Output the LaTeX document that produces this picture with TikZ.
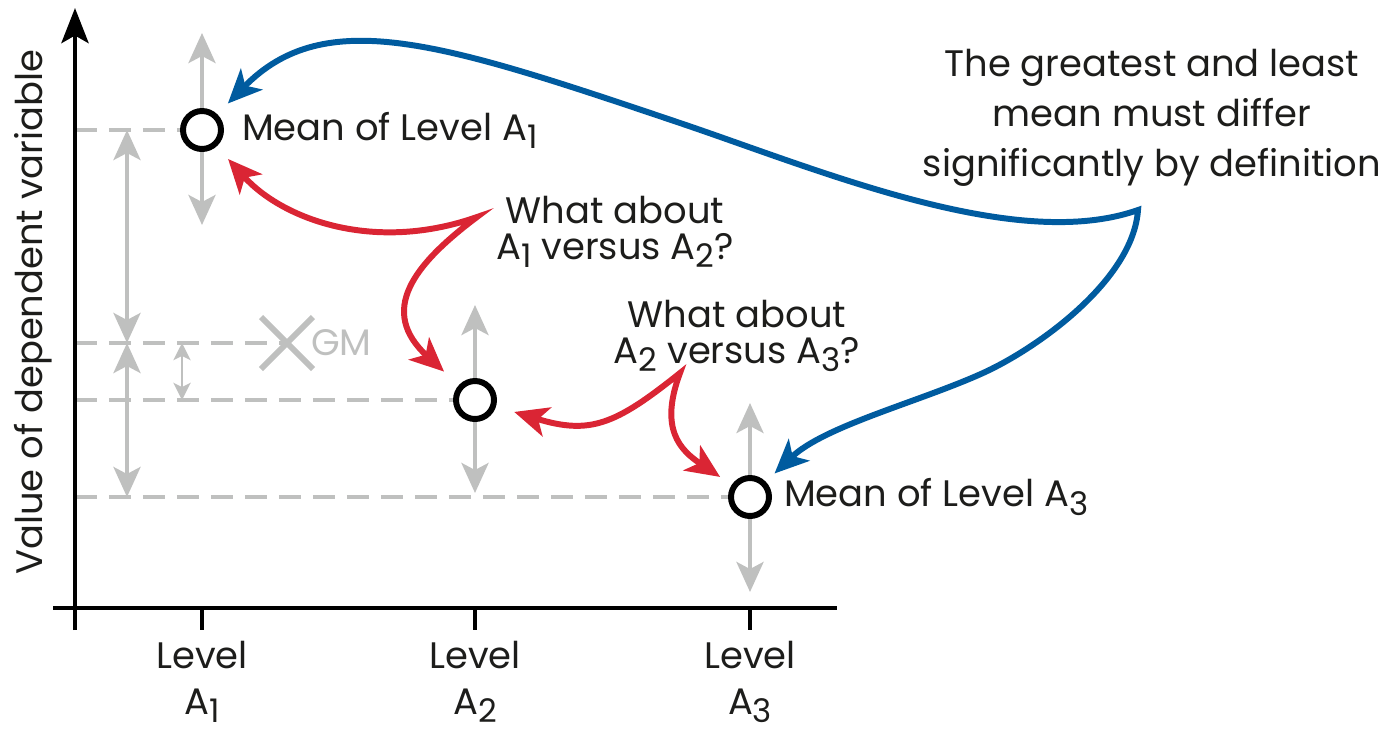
\documentclass[tikz,border=0pt]{standalone}
\usepackage{fontspec}
\setmainfont{Poppins}
\usepackage{graphicx}
\usetikzlibrary{arrows.meta,positioning,backgrounds,calc}
\definecolor{ucblue}{RGB}{0, 91, 159}
\definecolor{ucred}{RGB}{218, 37, 52}
\definecolor{ucgray}{RGB}{191, 192, 191}
\definecolor{uctext}{RGB}{29, 29, 27}
\newcommand{\lvl}[1]{\raisebox{-0.4ex}{\scalebox{0.88}{#1}}}

\begin{document}
\begin{tikzpicture}[x=0.02cm, y=-0.02cm, >={Stealth[length=0.6cm, width=0.54cm, inset=0.14cm]},
    font=\fontsize{21}{25}\selectfont, text=uctext,
    mean/.style={draw, circle, line width=3.4pt, fill=white, minimum size=0.76cm, inner sep=0pt},
    guide/.style={draw=ucgray, line width=2.8pt, dash pattern=on 0.44cm off 0.24cm},
    errbar/.style={draw=ucgray, line width=2.3pt, <->},
    smallbar/.style={draw=ucgray, line width=1.7pt, {Stealth[length=0.34cm, width=0.34cm, inset=0.08cm]}-{Stealth[length=0.34cm, width=0.34cm, inset=0.08cm]}},
    axis/.style={draw=black, line width=2.8pt},
    link/.style={line width=3.4pt, {Stealth[length=0.68cm, width=0.6cm, inset=0.18cm]}-{Stealth[length=0.68cm, width=0.6cm, inset=0.18cm]}}]
        \useasboundingbox (0,0) rectangle (1381,734);

        % Means
        \node[mean] (m1) at (202,130) {};
        \node[mean] (m2) at (475,400) {};
        \node[mean] (m3) at (750,497) {};
        \coordinate (O) at (75,608);
        \coordinate (gm) at (287,343);
        \node[right=0.24cm of m1] (lab1) {Mean of Level A\lvl{1}};
        \node[right=0.12cm of m3] (lab3) {Mean of Level A\lvl{3}};

        % Guides and spreads
        \begin{scope}[on background layer]
            \draw[guide] (O |- m1) -- (m1);
            \draw[guide] (O |- gm) -- (gm);
            \draw[guide] (O |- m2) -- (m2);
            \draw[guide] (O |- m3) -- (m3);
            \draw[errbar] ($(m1)+(0,-97)$) -- ($(m1)+(0,95)$);
            \draw[errbar] ($(m2)+(0,-95)$) -- ($(m2)+(0,93)$);
            \draw[errbar] ($(m3)+(0,-94)$) -- ($(m3)+(0,95)$);
            \draw[errbar] ($(O |- m1)+(52,0)$) -- ($(O |- gm)+(52,0)$);
            \draw[errbar] ($(O |- gm)+(52,0)$) -- ($(O |- m3)+(52,0)$);
            \draw[smallbar] ($(O |- gm)+(107,0)$) -- ($(O |- m2)+(107,0)$);
        \end{scope}

        % Grand mean
        \draw[draw=ucgray, line width=3.4pt] ($(gm)+(-26,-26)$) -- ($(gm)+(26,26)$) ($(gm)+(-26,26)$) -- ($(gm)+(26,-26)$);
        \node[right=0.36cm of gm, text=ucgray] (gmlab) {GM};

        % Axes
        \draw[axis, -{Stealth[length=0.7cm, width=0.54cm, inset=0.15cm]}] ($(O)+(0,22)$) -- (75,8);
        \draw[axis] (53,608) -- (837,608);
        \foreach \m/\n in {m1/1,m2/2,m3/3} {
            \draw[axis] (O -| \m) -- ++(0,22);
            \node[align=center, anchor=base, font=\fontsize{21}{26}\selectfont] at ($(O -| \m)+(0,106)$) {Level\\A\lvl{\n}};
        }
        \node[rotate=90] (ylab) at (33,312) {Value of dependent variable};

        % Comparisons
        \coordinate (s12) at (477,217);
        \coordinate (s23) at (680,373);
        \coordinate (sb) at (1138,210);
        \node[align=center, font=\fontsize{21}{20.5}\selectfont] (q12) at (615,232) {What about\\A\lvl{1} versus A\lvl{2}?};
        \node[align=center, font=\fontsize{21}{20.5}\selectfont] (q23) at (737,336) {What about\\A\lvl{2} versus A\lvl{3}?};
        \node[align=center, font=\fontsize{21}{28.4}\selectfont] (note) at (1152,118) {The greatest and least\\mean must differ\\significantly by definition};
        \draw[link, draw=ucred, shorten <=0.34cm, shorten >=0.4cm] (m1) .. controls (283,220) and (375,253) .. (s12) .. controls (413,265) and (378,311) .. (m2);
        \draw[link, draw=ucred, shorten <=0.38cm, shorten >=0.28cm] (m2) .. controls (590,435) and (615,425) .. (s23) .. controls (659,429) and (680,450) .. (m3);
        \draw[link, draw=ucblue, shorten <=0.3cm, shorten >=0.24cm] (m1) .. controls (325,4) and (443,43) .. (680,123) .. controls (822,171) and (1016,253) .. (sb) .. controls (1133,280) and (1038,348) .. (983,373) .. controls (919,402) and (824,426) .. (m3);
    \end{tikzpicture}
\end{document}
